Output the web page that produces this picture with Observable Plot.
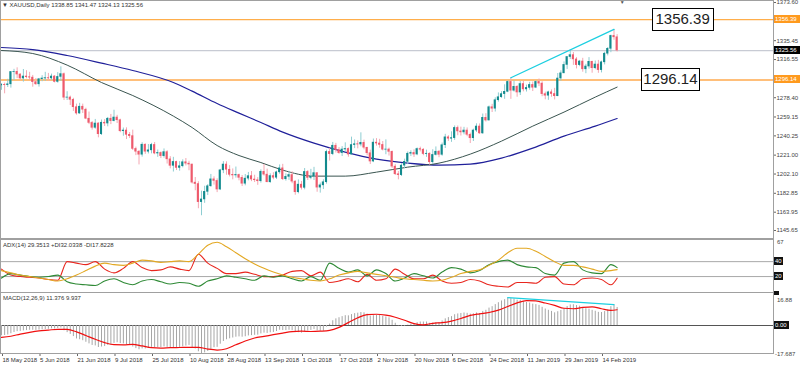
<!DOCTYPE html>
<html><head><meta charset="utf-8">
<script src="https://cdn.jsdelivr.net/npm/d3@7"></script>
<script src="https://cdn.jsdelivr.net/npm/@observablehq/plot@0.6"></script>
<style>
body{margin:0;background:#fff;}
#root{position:relative;width:800px;height:368px;overflow:hidden;background:#fff;font-family:'Liberation Sans',Arial,sans-serif;color:#222;}
.lbl{position:absolute;font-size:6px;line-height:8px;white-space:nowrap;}
.box{position:absolute;font-size:6px;line-height:8px;text-align:left;padding-left:1px;white-space:nowrap;}
.big{position:absolute;border:1px solid #000;background:#fff;font-size:15px;line-height:20px;text-align:center;white-space:nowrap;}
</style></head><body><div id="root"></div>
<script>
// ---------------- DATA ----------------
const tickBars = [0,12,24,36,48,60,72,84,96,108,120,132,144,156,168,180,192];
const tickLabels = ["18 May 2018","5 Jun 2018","21 Jun 2018","9 Jul 2018","25 Jul 2018","10 Aug 2018","28 Aug 2018","13 Sep 2018","1 Oct 2018","17 Oct 2018","2 Nov 2018","20 Nov 2018","6 Dec 2018","24 Dec 2018","11 Jan 2019","29 Jan 2019","14 Feb 2019"];

const open = [1290.7,1291.3,1291.0,1291.8,1304.1,1304.3,1301.6,1297.6,1299.6,1298.9,1298.5,1294.0,1291.8,1296.9,1297.6,1298.0,1297.7,1299.6,1294.2,1299.2,
1302.0,1278.4,1278.6,1276.3,1268.9,1262.6,1269.4,1266.4,1257.4,1253.2,1248.3,1252.6,1241.9,1253.4,1252.6,1257.4,1255.0,1258.6,1255.9,1244.9,
1245.6,1241.3,1240.0,1227.2,1224.4,1221.4,1231.4,1224.4,1225.8,1231.2,1222.6,1223.2,1220.0,1224.0,1216.8,1210.3,1214.2,1208.2,1209.9,1213.9,
1212.5,1211.6,1193.5,1192.1,1174.0,1176.7,1184.3,1189.9,1196.8,1195.2,1186.6,1205.8,1211.6,1206.4,1201.3,1200.7,1201.2,1198.3,1192.4,1197.5,
1200.0,1196.6,1195.9,1194.9,1204.3,1201.5,1193.9,1200.1,1198.4,1203.8,1207.8,1196.9,1199.3,1201.1,1194.5,1183.9,1191.5,1188.3,1204.2,1198.2,
1199.5,1203.0,1188.5,1190.8,1193.9,1224.2,1222.0,1230.4,1226.1,1223.0,1226.6,1227.2,1221.6,1231.1,1231.9,1231.6,1233.3,1228.4,1222.9,1214.6,
1233.5,1232.6,1231.2,1226.4,1226.6,1224.3,1209.5,1201.9,1201.0,1210.5,1214.3,1222.4,1223.2,1221.6,1227.1,1226.4,1222.1,1222.4,1213.9,1221.2,
1224.4,1221.3,1230.9,1238.8,1237.4,1238.0,1248.2,1244.7,1243.7,1245.6,1241.3,1237.9,1245.6,1249.6,1242.7,1258.3,1255.6,1268.9,1267.4,1275.9,
1278.9,1282.0,1284.3,1294.2,1285.4,1289.3,1283.6,1292.1,1286.7,1288.2,1291.2,1288.4,1294.2,1292.5,1282.0,1280.4,1283.8,1282.1,1279.9,1297.6,
1302.8,1311.2,1319.1,1321.0,1316.7,1311.0,1314.6,1306.8,1309.6,1314.3,1307.9,1311.6,1306.0,1313.8,1322.4,1327.3,1340.2,1338.85];
const high = [1292.5,1293.0,1296.8,1304.5,1306.8,1308.3,1302.3,1306.6,1305.4,1303.8,1300.7,1297.6,1297.7,1300.4,1303.8,1302.7,1302.0,1300.6,1303.5,1309.3,
1303.1,1284.4,1280.0,1277.8,1272.0,1272.8,1272.0,1267.9,1264.1,1254.6,1256.7,1253.4,1256.1,1256.5,1258.7,1261.7,1265.9,1260.8,1256.9,1248.1,
1248.3,1243.6,1246.0,1229.0,1225.6,1233.4,1232.3,1231.6,1232.8,1233.6,1226.1,1224.2,1227.2,1225.4,1219.5,1218.8,1214.9,1214.5,1216.3,1217.6,
1214.9,1211.9,1198.6,1194.4,1185.0,1189.9,1191.5,1201.7,1199.3,1197.3,1206.8,1214.5,1214.3,1210.5,1207.2,1209.1,1202.0,1200.6,1201.6,1203.7,
1204.6,1200.9,1198.5,1206.3,1211.7,1207.0,1202.3,1203.4,1205.0,1211.2,1211.8,1202.3,1204.9,1204.4,1195.4,1196.2,1194.7,1207.6,1205.5,1206.8,
1208.8,1203.5,1193.1,1196.4,1226.0,1227.8,1233.7,1232.8,1228.6,1229.5,1233.3,1228.2,1239.0,1236.2,1235.2,1243.3,1236.0,1228.7,1226.0,1237.1,
1237.5,1236.8,1234.6,1236.3,1228.0,1225.1,1211.5,1204.6,1212.3,1217.0,1224.2,1225.4,1226.3,1228.2,1229.0,1227.5,1226.0,1223.3,1226.4,1229.2,
1225.7,1233.1,1241.8,1240.4,1244.3,1250.2,1250.1,1249.0,1248.8,1248.2,1243.0,1247.0,1252.3,1252.2,1262.1,1262.4,1270.1,1271.8,1278.3,1283.2,
1284.4,1291.3,1295.3,1298.4,1295.1,1290.5,1294.5,1294.7,1291.0,1293.8,1294.1,1295.3,1297.1,1294.3,1284.0,1284.9,1286.2,1287.8,1302.6,1305.3,
1314.2,1319.4,1326.2,1323.6,1318.5,1315.7,1317.8,1311.8,1318.5,1314.9,1315.1,1315.7,1315.0,1323.9,1328.6,1341.0,1346.7,1341.47];
const low = [1285.8,1282.3,1288.6,1288.0,1295.5,1297.5,1296.0,1294.0,1297.3,1295.6,1288.9,1290.8,1289.0,1294.4,1294.7,1294.8,1295.5,1293.2,1292.9,1294.7,
1275.6,1275.6,1270.6,1264.7,1261.0,1261.8,1262.6,1256.5,1251.5,1246.0,1246.9,1238.3,1240.6,1249.6,1249.3,1251.5,1254.2,1252.6,1243.4,1239.9,
1236.6,1237.7,1225.6,1220.5,1211.2,1219.0,1221.8,1222.2,1222.3,1221.4,1218.8,1217.6,1218.0,1212.1,1207.3,1204.1,1205.6,1205.0,1208.3,1210.2,
1205.4,1192.1,1185.4,1167.4,1160.4,1172.8,1180.6,1188.8,1191.0,1183.5,1185.6,1202.5,1200.9,1199.2,1196.3,1198.0,1195.3,1189.6,1190.3,1195.3,
1194.5,1193.6,1190.8,1193.0,1200.0,1193.4,1192.8,1196.4,1196.6,1201.9,1195.6,1195.0,1195.8,1192.4,1180.9,1182.3,1186.1,1186.3,1195.6,1196.4,
1195.6,1183.9,1183.0,1186.6,1192.0,1215.1,1220.5,1223.1,1221.8,1219.6,1223.9,1218.9,1221.0,1227.5,1227.3,1229.3,1226.3,1220.4,1211.6,1213.5,
1230.0,1227.9,1225.2,1221.4,1220.1,1207.6,1200.6,1196.3,1199.6,1207.4,1211.6,1219.7,1218.7,1220.4,1224.2,1220.4,1218.8,1211.0,1211.8,1220.2,
1218.4,1219.9,1227.6,1234.7,1233.8,1235.8,1240.4,1240.1,1241.3,1239.4,1232.6,1234.6,1243.7,1241.7,1241.8,1254.1,1255.3,1263.6,1264.1,1274.0,
1277.8,1276.8,1283.4,1276.8,1284.0,1278.9,1280.6,1284.3,1284.1,1285.9,1284.6,1287.5,1289.5,1279.4,1276.3,1275.8,1278.9,1276.2,1279.4,1294.9,
1302.4,1306.7,1316.7,1310.7,1307.2,1309.4,1303.9,1302.4,1306.9,1302.9,1306.4,1302.8,1303.2,1311.2,1320.2,1323.4,1335.8,1324.13];
const close = [1291.3,1291.0,1291.8,1304.1,1304.3,1301.6,1297.6,1299.6,1298.9,1298.5,1294.0,1291.8,1296.9,1297.6,1298.0,1297.7,1299.6,1294.2,1299.2,1302.0,
1278.4,1278.6,1276.3,1268.9,1262.6,1269.4,1266.4,1257.4,1253.2,1248.3,1252.6,1241.9,1253.4,1252.6,1257.4,1255.0,1258.6,1255.9,1244.9,1245.6,
1241.3,1240.0,1227.2,1224.4,1221.4,1231.4,1224.4,1225.8,1231.2,1222.6,1223.2,1220.0,1224.0,1216.8,1210.3,1214.2,1208.2,1209.9,1213.9,1212.5,
1211.6,1193.5,1192.1,1174.0,1176.7,1184.3,1189.9,1196.8,1195.2,1186.6,1205.8,1211.6,1206.4,1201.3,1200.7,1201.2,1198.3,1192.4,1197.5,1200.0,
1196.6,1195.9,1194.9,1204.3,1201.5,1193.9,1200.1,1198.4,1203.8,1207.8,1196.9,1199.3,1201.1,1194.5,1183.9,1191.5,1188.3,1204.2,1198.2,1199.5,
1203.0,1188.5,1190.8,1193.9,1224.2,1222.0,1230.4,1226.1,1223.0,1226.6,1227.2,1221.6,1231.1,1231.9,1231.6,1233.3,1228.4,1222.9,1214.6,1233.5,
1232.6,1231.2,1226.4,1226.6,1224.3,1209.5,1201.9,1201.0,1210.5,1214.3,1222.4,1223.2,1221.6,1227.1,1226.4,1222.1,1222.4,1213.9,1221.2,1224.4,
1221.3,1230.9,1238.8,1237.4,1238.0,1248.2,1244.7,1243.7,1245.6,1241.3,1237.9,1245.6,1249.6,1242.7,1258.3,1255.6,1268.9,1267.4,1275.9,1278.9,
1282.0,1284.3,1294.2,1285.4,1289.3,1283.6,1292.1,1286.7,1288.2,1291.2,1288.4,1294.2,1292.5,1282.0,1280.4,1283.8,1282.1,1279.9,1297.6,1302.8,
1311.2,1319.1,1321.0,1316.7,1311.0,1314.6,1306.8,1309.6,1314.3,1307.9,1311.6,1306.0,1313.8,1322.4,1327.3,1340.2,1338.8,1325.56];

// moving averages (at these bars)
const maBars = [0,10,21,32,42,55,61,69,76,83,90,100,110,120,130,140,150,160,170,180,190,197];
const maFast = [1325.6,1322.6,1311,1293.6,1280.6,1260,1248.6,1230.6,1220.6,1213.6,1206,1200,1200,1204,1209,1213,1222,1235,1250,1264,1279,1289];
const maSlow = [1328.6,1326.5,1320.6,1313,1305.6,1293.6,1285,1272.6,1263,1253.6,1244,1233,1224,1217,1213,1211,1212,1218,1228,1240,1250,1257.6];

// levels & trend line
const levelHigh = 1356.39, lastPrice = 1325.56, levelLow = 1296.14;
const trendBars = [163, 196], trendPrices = [1298.4, 1346.7];
const priceTicks = [1373.60,1335.45,1316.55,1278.40,1259.15,1240.25,1221.00,1202.10,1182.85,1163.95,1145.65];

// ADX(14) sampled every 3 bars (+ last bar)
const indBars = [0,3,6,9,12,15,18,21,24,27,30,33,36,39,42,45,48,51,54,57,60,63,66,69,72,75,78,81,84,87,90,93,96,99,102,105,108,111,114,117,120,123,126,129,132,135,138,141,144,147,150,153,156,159,162,165,168,171,174,177,180,183,186,189,192,195,197];
const adx = [28,25,22,20,18,16,14,17,22,28,34,38,36,35,38,42,41,39,40,41,40,50,62,66,60,52,44,37,31,26,22,19,17,15,14,17,22,25,27,25,23,21,19,17,16,15,14,15,19,24,27,29,35,42,52,58,58,54,47,40,35,35,33,30,27,28,29.35];
const plusDI = [18,24,22,20,19,20,22,13,10,9,8,14,17,12,9,14,16,13,10,12,11,7,14,17,21,19,17,15,21,19,21,17,14,20,15,38,31,26,29,21,29,24,14,18,24,21,18,26,32,30,25,28,36,40,42,36,33,32,24,22,38,40,29,25,24,36,32.03];
const minusDI = [30,22,20,19,18,16,15,40,38,36,40,30,25,31,40,32,28,29,33,30,28,50,38,31,24,24,26,23,20,20,22,27,28,21,26,12,14,17,13,23,15,17,30,23,17,17,22,14,11,12,16,14,9,7,6,12,12,11,19,20,10,9,17,18,16,9,17.82];
const adxLevels = [40, 20];

// MACD(12,26,9) main values per bar, signal sampled like indBars
const macd = [-6.5,-6.3,-6.0,-5.2,-4.4,-3.9,-3.7,-3.4,-3.2,-3.0,-3.0,-3.1,-2.9,-2.7,-2.5,-2.4,-2.1,-2.2,-1.9,-1.6,
-3.3,-4.5,-5.6,-7.0,-8.5,-9.0,-9.6,-10.6,-11.6,-12.6,-12.9,-13.9,-13.6,-13.3,-12.6,-12.1,-11.3,-10.9,-11.4,-11.6,
-12.1,-12.4,-13.6,-14.6,-15.3,-14.8,-14.8,-14.5,-13.8,-14.0,-13.9,-13.9,-13.5,-13.8,-14.2,-14.0,-14.1,-13.9,-13.4,-13.0,
-12.6,-13.9,-14.8,-16.6,-17.687,-17.3,-16.4,-15.1,-14.0,-13.8,-11.8,-10.1,-9.0,-8.4,-7.9,-7.4,-7.2,-7.4,-7.1,-6.6,
-6.4,-6.2,-6.1,-5.3,-4.8,-5.0,-4.6,-4.4,-3.8,-3.0,-3.2,-3.2,-3.0,-3.3,-4.4,-4.5,-4.8,-3.8,-3.5,-3.1,
-2.5,-3.3,-3.6,-3.6,-1.0,0.9,3.0,4.2,4.9,5.6,6.2,6.1,6.9,7.5,7.8,8.2,8.0,7.2,5.9,6.2,
6.3,6.3,5.8,5.4,4.8,3.3,1.4,-0.2,-0.6,-0.5,0.2,0.8,1.1,1.8,2.2,2.2,2.2,1.4,1.5,1.8,
1.9,2.9,4.2,5.0,5.6,6.8,7.3,7.6,7.9,7.7,7.2,7.4,7.9,7.6,8.9,9.6,11.0,11.9,13.2,14.4,
15.5,16.3,17.3,17.0,16.8,16.0,15.9,15.2,14.6,14.2,13.5,13.2,12.7,11.5,10.4,9.6,8.9,8.0,8.7,9.5,
10.6,12.0,13.0,13.1,12.6,12.2,11.3,10.6,10.3,9.6,9.0,8.3,8.2,8.8,9.8,11.9,12.9,11.376];
const signal = [-7.5,-6.8,-5.4,-4.3,-3.4,-2.9,-2.4,-2.5,-4.0,-6.3,-8.7,-10.8,-12.1,-12.2,-11.9,-12.9,-14.0,-14.3,-14.0,-13.9,-13.8,-13.8,-14.9,-15.5,-14.7,-12.2,-9.8,-7.9,-6.9,-5.8,-4.8,-3.9,-3.6,-3.8,-3.6,-3.1,-1.2,1.8,4.9,6.9,7.1,6.5,5.2,3.3,1.2,0.4,1.4,1.8,2.8,4.4,6.4,7.4,8.2,9.7,12.0,14.3,15.7,15.5,14.2,12.7,10.9,10.6,11.4,11.8,10.6,9.6,9.937];
const macdTrendBars = [162, 196], macdTrendVals = [17.6, 13.2];
const macdLabels = [16.88, -17.687];

// ---------------- RENDER ----------------
const root = document.getElementById("root");
const FONT = "'Liberation Sans', Arial, sans-serif";
const xDom = [-0.32, 247.04];
const W = 800, MR = 27;
const style = {fontFamily: FONT, fontSize: "6px", color: "#333", background: "transparent", overflow: "visible"};

function place(el, top) {
  const d = document.createElement("div");
  d.style.cssText = `position:absolute;left:0;top:${top}px;`;
  d.append(el); root.append(d); return d;
}
function div(cls, text, css) {
  const d = document.createElement("div");
  d.className = cls; d.textContent = text; d.style.cssText += css; root.append(d); return d;
}

const candles = d3.range(close.length).map(i => ({i, o: open[i], h: high[i], l: low[i], c: close[i], up: close[i] >= open[i]}));
const maF = maBars.map((b, k) => ({b, v: maFast[k]}));
const maS = maBars.map((b, k) => ({b, v: maSlow[k]}));
const trend = trendBars.map((b, k) => ({b, v: trendPrices[k]}));

const MAIN_TOP = 0, MAIN_H = 239;
const main = Plot.plot({
  width: W, height: MAIN_H, marginLeft: 0, marginRight: MR, marginTop: 0, marginBottom: 1,
  style,
  x: {domain: xDom, axis: null},
  y: {domain: [1137.65, 1375.6], axis: null},
  color: {type: "identity"},
  marks: [
    Plot.ruleY([levelHigh], {stroke: "#ff9a1e", strokeWidth: 1}),
    Plot.ruleY([lastPrice], {stroke: "#c8cbd4", strokeWidth: 1.2}),
    Plot.ruleY([levelLow], {stroke: "#ffbf7a", strokeWidth: 2}),
    Plot.line(maS, {x: "b", y: "v", stroke: "#20209a", strokeWidth: 1.2, curve: "monotone-x"}),
    Plot.line(maF, {x: "b", y: "v", stroke: "#3a5550", strokeWidth: 1, curve: "monotone-x"}),
    Plot.ruleX(candles, {x: "i", y1: "l", y2: "h", stroke: d => d.up ? "#8ecdd2" : "#f4a7b2", strokeWidth: 1}),
    Plot.rect(candles, {x1: d => d.i - 0.34, x2: d => d.i + 0.34, y1: d => Math.min(d.o, d.c) - 0.3, y2: d => Math.max(d.o, d.c) + 0.3, fill: d => d.up ? "#128a8d" : "#ee5a6c"}),
    Plot.line(trend, {x: "b", y: "v", stroke: "#1ccfe0", strokeWidth: 1.3}),
    Plot.axisY({anchor: "right", ticks: priceTicks, tickFormat: d => d.toFixed(2), tickSize: 2, tickPadding: 1, fill: "#444", stroke: "#666"}),
    Plot.frame({stroke: "#a0a0a0"})
  ]
});
place(main, MAIN_TOP);
const my = main.scale("y"), mx = main.scale("x");

function axisBox(top, text, bg, fg, w) {
  div("box", text, `left:774px;top:${top - 4}px;width:${w}px;height:8px;background:${bg};color:${fg};`);
}
axisBox(MAIN_TOP + my.apply(levelHigh), levelHigh.toFixed(2), "#ff9a1e", "#fff", 25);
axisBox(MAIN_TOP + my.apply(lastPrice), lastPrice.toFixed(2), "#000", "#fff", 25);
axisBox(MAIN_TOP + my.apply(levelLow), levelLow.toFixed(2), "#ff9a1e", "#fff", 25);

const notes = [{label: "1356.39", price: levelHigh, bar: 217.8, w: 60}, {label: "1296.14", price: levelLow, bar: 213.9, w: 57}];
for (const n of notes) {
  const cx = mx.apply(n.bar), cy = MAIN_TOP + my.apply(n.price);
  div("big", n.label, `left:${cx - n.w / 2}px;top:${cy - 11}px;width:${n.w}px;height:21px;`);
}
div("lbl", "\u25BC XAUUSD,Daily  1338.85 1341.47 1324.13 1325.56", "left:2px;top:1px;color:#333;");
div("lbl", "\u25BC", `left:${mx.apply(197) + 3}px;top:-2px;color:#555;font-size:5px;`);

// ---------------- ADX ----------------
const ADX_TOP = 239, ADX_H = 53;
const rowsA = indBars.map((b, k) => ({b, adx: adx[k], p: plusDI[k], m: minusDI[k]}));
const adxPlot = Plot.plot({
  width: W, height: ADX_H, marginLeft: 0, marginRight: MR, marginTop: 0, marginBottom: 0,
  style,
  x: {domain: xDom, axis: null},
  y: {domain: [-1.34, 69.68], axis: null},
  marks: [
    Plot.ruleY(adxLevels, {stroke: "#a8a8a8"}),
    Plot.line(rowsA, {x: "b", y: "m", stroke: "#e8261e", strokeWidth: 1.1, curve: "monotone-x"}),
    Plot.line(rowsA, {x: "b", y: "p", stroke: "#2f8a36", strokeWidth: 1.1, curve: "monotone-x"}),
    Plot.line(rowsA, {x: "b", y: "adx", stroke: "#e3a823", strokeWidth: 1.1, curve: "monotone-x"}),
    Plot.frame({stroke: "#a0a0a0"})
  ]
});
place(adxPlot, ADX_TOP);
const ay = adxPlot.scale("y");
div("lbl", "67", `left:777px;top:${ADX_TOP + ay.apply(67) - 3}px;color:#444;`);
for (const L of adxLevels) div("box", String(L), `left:774px;top:${ADX_TOP + ay.apply(L) - 4}px;width:8px;height:8px;background:#111;color:#fff;`);
div("lbl", "ADX(14) 29.3513 +DI32.0338 -DI17.8228", `left:3px;top:${ADX_TOP + 2}px;color:#333;`);

// ---------------- MACD ----------------
const MACD_TOP = 292, MACD_H = 76;
const hist = macd.map((v, i) => ({i, v}));
const sig = indBars.map((b, k) => ({b, v: signal[k]}));
const mtr = macdTrendBars.map((b, k) => ({b, v: macdTrendVals[k]}));
const macdPlot = Plot.plot({
  width: W, height: MACD_H, marginLeft: 0, marginRight: MR, marginTop: 0, marginBottom: 15,
  style,
  x: {domain: xDom, axis: null},
  y: {domain: [-17.687, 20.85], axis: null},
  marks: [
    Plot.ruleY([0], {stroke: "#555"}),
    Plot.ruleX(hist, {x: "i", y1: 0, y2: "v", stroke: "#a6a6a6", strokeWidth: 1}),
    Plot.line(sig, {x: "b", y: "v", stroke: "#f01010", strokeWidth: 1.2, curve: "monotone-x"}),
    Plot.line(mtr, {x: "b", y: "v", stroke: "#1ccfe0", strokeWidth: 1.2}),
    Plot.axisX({anchor: "bottom", ticks: tickBars, tickFormat: d => tickLabels[tickBars.indexOf(d)], tickSize: 3, tickPadding: 1, textAnchor: "start", dx: 1, fill: "#333", stroke: "#666"}),
    Plot.frame({stroke: "#a0a0a0"})
  ]
});
place(macdPlot, MACD_TOP);
const qy = macdPlot.scale("y");
div("lbl", String(macdLabels[0]), `left:777px;top:${MACD_TOP + qy.apply(macdLabels[0]) - 2}px;color:#444;`);
div("lbl", String(macdLabels[1]), `left:775px;top:${MACD_TOP + qy.apply(macdLabels[1]) - 3}px;color:#444;`);
div("box", "", `left:774px;top:${MACD_TOP - 1}px;width:4px;height:4px;background:#111;`);
div("box", "0.00", `left:774px;top:${MACD_TOP + qy.apply(0) - 4}px;width:14px;height:8px;background:#111;color:#fff;`);
div("lbl", "MACD(12,26,9) 11.376 9.937", `left:3px;top:${MACD_TOP + 2}px;color:#333;`);
</script></body></html>
